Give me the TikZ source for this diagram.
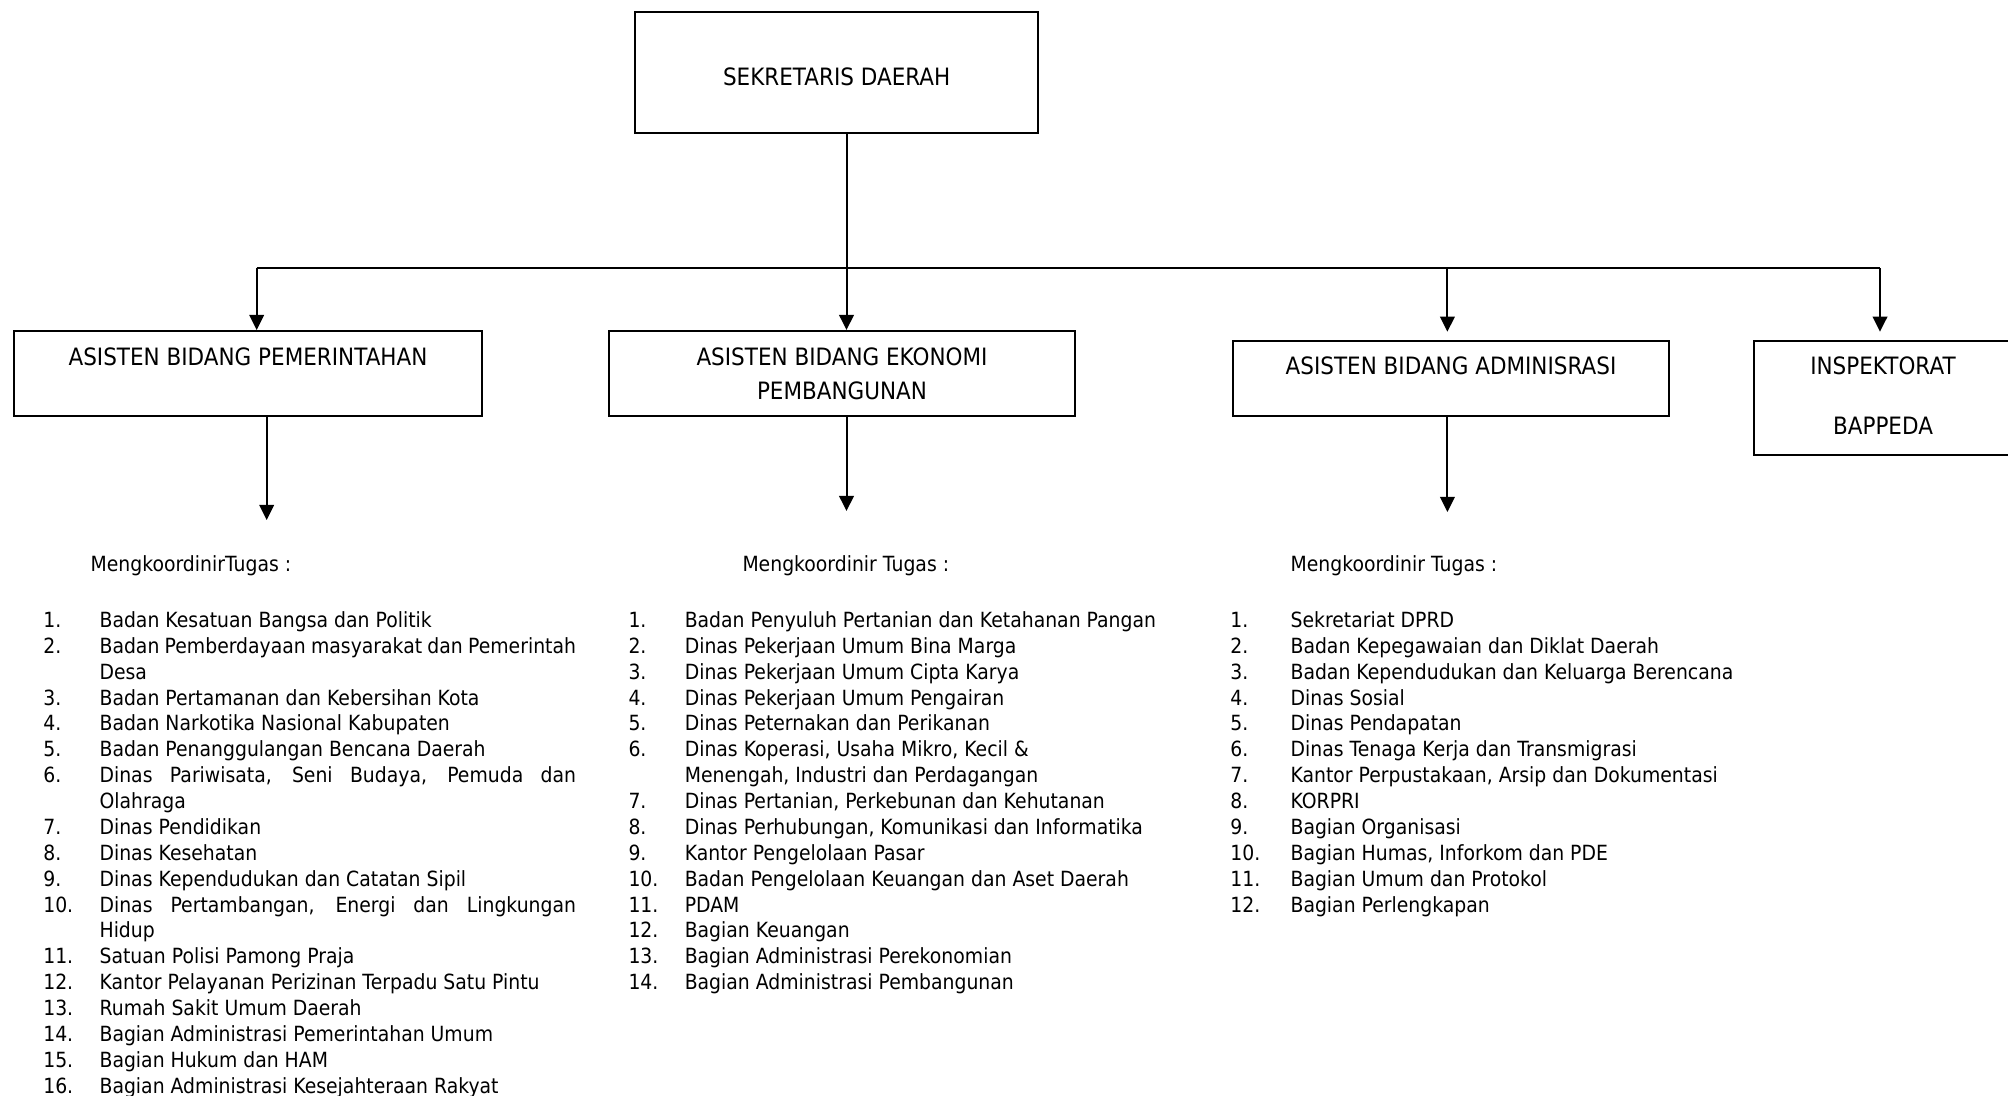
\documentclass[tikz,border=0pt]{standalone}
\usepackage{fontspec}
\setmainfont{DejaVu Sans}[FakeStretch=0.9]
\usetikzlibrary{arrows.meta}
% kotak berisi teks rata atas: lebar, tinggi, jarak ke baseline, teks
\newcommand{\isikotak}[4]{\parbox[c][#2][t]{#1}{\centering\rule{0pt}{#3}#4}}

\begin{document}
\begin{tikzpicture}[x=0.2mm, y=-0.2mm, line width=0.4mm,
    kotak/.style={draw, inner sep=0pt, anchor=north west, font=\fontsize{13.6pt}{18.9pt}\selectfont},
    panah/.style={-{Triangle[length=3mm, width=2.9mm]}},
    teks/.style={anchor=base west, inner sep=0pt, font=\fontsize{11.9pt}{14.72pt}\selectfont}]
  \useasboundingbox (0,0) rectangle (2008,1096);
  \clip (0,0) rectangle (2008,1096);
  % kotak jabatan
  \node[kotak] (sekda) at (634,11) {\isikotak{80.66mm}{24.3mm}{14.8mm}{SEKRETARIS DAERAH}};
  \node[kotak] (asn1) at (13,330) {\isikotak{93.6mm}{17mm}{7mm}{ASISTEN BIDANG PEMERINTAHAN}};
  \node[kotak] (asn2) at (608,330) {\isikotak{93.2mm}{17mm}{7mm}{ASISTEN BIDANG EKONOMI\\PEMBANGUNAN}};
  \node[kotak] (adm) at (1232,340) {\isikotak{87.2mm}{15mm}{6.8mm}{ASISTEN BIDANG ADMINISRASI}};
  \node[kotak] (insp) at (1753,340) {\isikotak{51.6mm}{22.8mm}{6.8mm}{INSPEKTORAT\\[15.2pt]BAPPEDA}};
  % garis cabang
  \coordinate (t1) at (256.7,268.5);
  \coordinate (t2) at (846.5,268.5);
  \coordinate (t3) at (1447.4,268.5);
  \coordinate (t4) at (1880,268.5);
  \draw (sekda.south -| t2) -- (t2);
  \draw (t1) -- (t4);
  \draw[panah] (t1) -- (t1 |- asn1.north);
  \draw[panah] (t2) -- (t2 |- asn2.north);
  \draw[panah, shorten >=1.66mm] (t3) -- (t3 |- adm.north);
  \draw[panah, shorten >=1.66mm] (t4) -- (t4 |- insp.north);
  % panah ke daftar tugas
  \coordinate (u1) at (266.7,520);
  \coordinate (u2) at (846.5,511);
  \coordinate (u3) at (1447.4,512);
  \draw[panah] (u1 |- asn1.south) -- (u1);
  \draw[panah] (u2 |- asn2.south) -- (u2);
  \draw[panah] (u3 |- adm.south) -- (u3);
  % daftar tugas
  \node[teks] (judul1) at (89.6,572) {MengkoordinirTugas :};
  \node[teks] (judul2) at (741.5,572) {Mengkoordinir Tugas :};
  \node[teks] (judul3) at (1289.6,572) {Mengkoordinir Tugas :};
  \node[teks] (daftar1) at (42.3,627.5) {\begin{tabular}[t]{@{}p{11.26mm}@{}l@{}}
    1. & Badan Kesatuan Bangsa dan Politik\\
    2. & \makebox[95.28mm][s]{Badan Pemberdayaan masyarakat dan Pemerintah}\\
       & Desa\\
    3. & Badan Pertamanan dan Kebersihan Kota\\
    4. & Badan Narkotika Nasional Kabupaten\\
    5. & Badan Penanggulangan Bencana Daerah\\
    6. & \makebox[95.28mm][s]{Dinas Pariwisata, Seni Budaya, Pemuda dan}\\
       & Olahraga\\
    7. & Dinas Pendidikan\\
    8. & Dinas Kesehatan\\
    9. & Dinas Kependudukan dan Catatan Sipil\\
    10. & \makebox[95.28mm][s]{Dinas Pertambangan, Energi dan Lingkungan}\\
       & Hidup\\
    11. & Satuan Polisi Pamong Praja\\
    12. & Kantor Pelayanan Perizinan Terpadu Satu Pintu\\
    13. & Rumah Sakit Umum Daerah\\
    14. & Bagian Administrasi Pemerintahan Umum\\
    15. & Bagian Hukum dan HAM\\
    16. & Bagian Administrasi Kesejahteraan Rakyat
  \end{tabular}};
  \node[teks] (daftar2) at (627.5,627.5) {\begin{tabular}[t]{@{}p{11.26mm}@{}l@{}}
    1. & Badan Penyuluh Pertanian dan Ketahanan Pangan\\
    2. & Dinas Pekerjaan Umum Bina Marga\\
    3. & Dinas Pekerjaan Umum Cipta Karya\\
    4. & Dinas Pekerjaan Umum Pengairan\\
    5. & Dinas Peternakan dan Perikanan\\
    6. & Dinas Koperasi, Usaha Mikro, Kecil \&\\
       & Menengah, Industri dan Perdagangan\\
    7. & Dinas Pertanian, Perkebunan dan Kehutanan\\
    8. & Dinas Perhubungan, Komunikasi dan Informatika\\
    9. & Kantor Pengelolaan Pasar\\
    10. & Badan Pengelolaan Keuangan dan Aset Daerah\\
    11. & PDAM\\
    12. & Bagian Keuangan\\
    13. & Bagian Administrasi Perekonomian\\
    14. & Bagian Administrasi Pembangunan
  \end{tabular}};
  \node[teks] (daftar3) at (1229.4,627.5) {\begin{tabular}[t]{@{}p{12.04mm}@{}l@{}}
    1. & Sekretariat DPRD\\
    2. & Badan Kepegawaian dan Diklat Daerah\\
    3. & Badan Kependudukan dan Keluarga Berencana\\
    4. & Dinas Sosial\\
    5. & Dinas Pendapatan\\
    6. & Dinas Tenaga Kerja dan Transmigrasi\\
    7. & Kantor Perpustakaan, Arsip dan Dokumentasi\\
    8. & KORPRI\\
    9. & Bagian Organisasi\\
    10. & Bagian Humas, Inforkom dan PDE\\
    11. & Bagian Umum dan Protokol\\
    12. & Bagian Perlengkapan
  \end{tabular}};
\end{tikzpicture}
\end{document}
